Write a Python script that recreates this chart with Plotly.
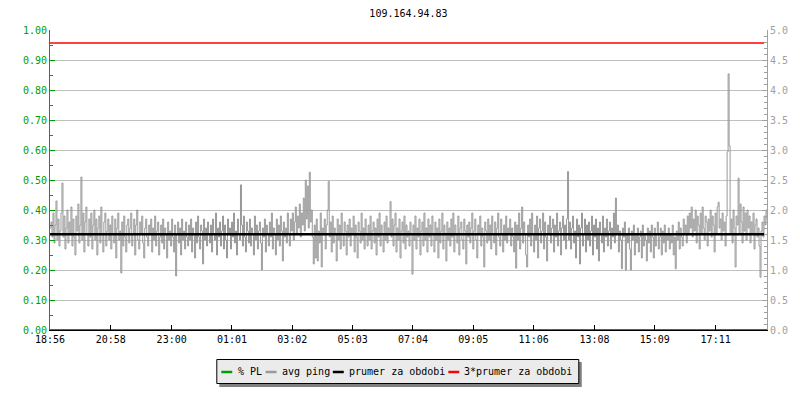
import plotly.graph_objects as go

title_text = "109.164.94.83"
tick_labels = ["18:56", "20:58", "23:00", "01:01", "03:02", "05:03",
               "07:04", "09:05", "11:06", "13:08", "15:09", "17:11"]
tick_minutes = [0, 122, 244, 365, 486, 607, 728, 849, 970, 1092, 1213, 1335]
span_minutes = 1438
sample_step = 2  # minutes between ping samples

# average ping (right axis, 0-5)
avg_ping = [
    1.70, 1.80, 1.55, 1.95, 1.45, 1.75, 2.15, 1.50, 1.85, 1.40, 1.65, 1.95, 2.45, 1.55, 1.90, 1.35, 1.70, 2.00, 1.45, 1.80,
    1.60, 2.05, 1.40, 1.85, 1.55, 1.25, 1.90, 1.65, 2.10, 1.45, 1.75, 2.55, 1.50, 1.95, 1.30, 1.80, 2.05, 1.60, 1.40, 1.85,
    1.55, 1.95, 1.35, 1.75, 2.00, 1.50, 1.85, 1.25, 1.70, 1.90, 1.45, 2.05, 1.60, 1.30, 1.80, 1.95, 1.40, 1.65, 1.85, 1.50,
    1.75, 1.35, 1.90, 1.60, 1.45, 1.85, 1.20, 1.70, 1.95, 1.50, 1.65, 0.95, 1.80, 1.40, 1.90, 1.55, 1.30, 1.75, 1.85, 1.45,
    1.70, 1.95, 1.40, 1.60, 1.85, 1.25, 1.75, 2.00, 1.50, 1.35, 1.80, 1.60, 1.90, 1.45, 1.20, 1.70, 1.85, 1.55, 1.40, 1.75,
    1.60, 1.85, 1.30, 1.70, 1.50, 1.90, 1.40, 1.65, 1.80, 1.25, 1.55, 1.75, 1.45, 1.85, 1.35, 1.70, 1.60, 1.20, 1.80, 1.50,
    1.65, 1.40, 1.85, 1.55, 1.30, 1.75, 0.90, 1.60, 1.80, 1.45, 1.70, 1.25, 1.85, 1.50, 1.65, 1.35, 1.80, 1.55, 1.40, 1.75,
    1.50, 1.85, 1.30, 1.70, 1.60, 1.20, 1.80, 1.45, 1.90, 1.55, 1.35, 1.75, 1.65, 1.10, 1.85, 1.50, 1.70, 1.40, 1.80, 1.60,
    1.45, 1.75, 1.30, 1.85, 1.60, 1.50, 1.95, 1.25, 1.70, 1.55, 1.80, 1.40, 1.65, 1.90, 1.35, 1.75, 1.50, 1.20, 1.85, 1.60,
    1.70, 1.35, 1.80, 1.55, 1.95, 1.45, 1.65, 1.25, 1.85, 1.60, 1.50, 2.42, 1.75, 1.40, 1.90, 1.55, 1.30, 1.80, 1.65, 1.45,
    1.85, 1.40, 1.70, 1.60, 1.25, 1.90, 1.50, 1.75, 1.35, 1.65, 1.80, 1.45, 1.00, 1.70, 1.55, 1.85, 1.30, 1.75, 1.60, 1.40,
    1.80, 1.55, 1.95, 1.35, 1.70, 1.60, 1.25, 1.85, 1.50, 1.75, 1.40, 1.90, 1.65, 1.15, 1.80, 1.55, 1.70, 1.45, 1.95, 1.60,
    1.40, 1.85, 1.65, 1.95, 1.50, 1.80, 2.05, 1.60, 1.90, 1.70, 2.10, 1.55, 1.95, 1.75, 2.20, 1.65, 2.50, 1.85, 2.40, 1.70,
    2.63, 1.80, 2.00, 1.55, 1.10, 1.75, 1.20, 1.85, 1.15, 1.65, 1.45, 1.95, 1.05, 1.70, 1.60, 1.85, 1.35, 1.75, 2.00, 2.48,
    1.55, 1.80, 1.30, 1.90, 1.45, 1.70, 1.60, 1.15, 1.85, 1.50, 1.75, 1.35, 1.95, 1.60, 1.40, 1.80, 1.65, 1.25, 1.75, 1.55,
    1.85, 1.40, 1.70, 1.60, 1.90, 1.30, 1.75, 1.55, 1.20, 1.80, 1.65, 1.45, 1.95, 1.50, 1.70, 1.35, 1.85, 1.60, 1.40, 1.75,
    1.50, 1.90, 1.35, 1.65, 1.80, 1.45, 1.70, 1.25, 1.85, 1.55, 1.95, 1.40, 1.75, 1.60, 1.30, 1.80, 1.50, 1.90, 1.45, 1.70,
    1.60, 2.14, 1.55, 1.85, 1.40, 1.75, 1.95, 1.30, 1.70, 1.50, 1.85, 1.20, 1.65, 1.80, 1.45, 1.90, 1.35, 1.75, 1.55, 1.65,
    1.40, 1.80, 1.60, 0.93, 1.75, 1.50, 1.90, 1.35, 1.70, 1.55, 1.85, 1.25, 1.65, 1.80, 1.40, 1.95, 1.50, 1.70, 1.30, 1.85,
    1.55, 1.75, 1.40, 1.90, 1.60, 1.30, 1.80, 1.50, 1.70, 1.20, 1.85, 1.45, 1.65, 1.95, 1.35, 1.75, 1.60, 1.15, 1.80, 1.50,
    1.70, 1.40, 1.85, 1.55, 1.95, 1.30, 1.75, 1.60, 1.45, 1.90, 1.25, 1.70, 1.80, 1.50, 1.35, 1.85, 1.65, 1.10, 1.75, 1.55,
    1.80, 1.45, 1.70, 1.95, 1.35, 1.65, 1.85, 1.50, 1.20, 1.75, 1.60, 1.90, 1.40, 1.70, 1.55, 1.05, 1.80, 1.65, 1.45, 1.85,
    1.50, 1.75, 1.35, 1.90, 1.60, 1.45, 1.80, 1.25, 1.70, 1.95, 1.55, 1.40, 1.85, 1.60, 1.30, 1.75, 1.50, 1.90, 1.45, 1.70,
    1.60, 1.85, 1.40, 1.70, 1.55, 1.30, 1.80, 1.03, 1.75, 1.50, 1.95, 1.35, 1.70, 2.05, 1.45, 1.80, 1.60, 1.25, 1.05, 1.75,
    1.55, 1.85, 1.40, 1.95, 1.60, 1.30, 1.75, 1.50, 1.90, 1.20, 1.70, 1.85, 1.45, 1.65, 1.95, 1.35, 1.80, 1.55, 1.15, 1.75,
    1.60, 1.90, 1.45, 1.70, 1.85, 1.30, 1.75, 1.55, 1.95, 1.40, 1.65, 1.80, 1.25, 1.70, 1.90, 1.50, 1.75, 1.35, 1.85, 2.64,
    1.50, 1.80, 1.35, 1.70, 1.90, 1.45, 1.65, 1.20, 1.85, 1.55, 1.75, 1.10, 1.70, 1.95, 1.40, 1.60, 1.85, 1.30, 1.75, 1.50,
    1.80, 1.40, 1.65, 1.90, 1.25, 1.75, 1.55, 1.85, 1.35, 1.70, 1.15, 1.80, 1.60, 1.45, 1.90, 1.30, 1.70, 1.55, 1.85, 1.40,
    1.65, 1.80, 1.35, 1.70, 1.55, 1.95, 1.45, 2.20, 1.60, 1.75, 1.30, 1.65, 1.50, 1.02, 1.70, 1.55, 1.80, 1.00, 1.60, 1.45,
    1.70, 1.35, 1.00, 1.65, 1.50, 1.75, 1.25, 1.60, 1.45, 1.70, 1.30, 1.55, 1.65, 1.20, 1.75, 1.40, 1.60, 1.50, 1.15, 1.70,
    1.45, 1.65, 1.30, 1.75, 1.55, 1.20, 1.70, 1.40, 1.60, 1.80, 1.35, 1.55, 1.70, 1.25, 1.65, 1.45, 1.75, 1.30, 1.60, 1.50,
    1.70, 1.35, 1.60, 1.45, 1.75, 1.25, 1.55, 1.02, 1.65, 1.50, 1.80, 1.35, 1.70, 1.55, 1.40, 1.85, 1.60, 1.75, 1.45, 1.90,
    1.60, 1.95, 1.70, 2.05, 1.55, 1.85, 1.65, 2.00, 1.45, 1.90, 1.75, 1.35, 1.95, 1.60, 2.05, 1.70, 1.50, 1.90, 1.80, 1.40,
    1.85, 1.65, 2.00, 1.55, 1.90, 1.75, 1.30, 1.95, 1.60, 2.05, 2.13, 1.70, 1.85, 1.50, 1.95, 1.65, 1.80, 1.40, 1.90, 2.97,
    4.27, 3.07, 1.60, 1.85, 1.45, 2.00, 1.70, 1.05, 1.90, 1.75, 2.53, 1.60, 2.10, 1.80, 1.45, 2.05, 1.65, 1.95, 1.50, 2.00,
    1.70, 1.90, 1.45, 1.80, 1.60, 1.95, 1.35, 1.75, 1.85, 1.55, 1.70, 1.40, 0.88, 1.65, 1.80, 1.55, 1.90, 1.75, 2.00, 1.85,
]
pl_values = [0.0, 0.0]          # % packet loss (left axis)
mean_ping = 1.595               # "prumer za obdobi"
triple_mean = 3 * mean_ping     # "3*prumer za obdobi"

GREEN = "#00a000"
GRAY = "#999999"
AXGRAY = "#a0a0a0"
FONT = "DejaVu Sans Mono"

times = [i * sample_step for i in range(len(avg_ping))]

fig = go.Figure()
fig.add_trace(go.Scatter(x=[0, span_minutes], y=pl_values, mode="lines",
                         line=dict(color=GREEN, width=2), yaxis="y",
                         showlegend=False, hoverinfo="skip"))
fig.add_trace(go.Scatter(x=times, y=avg_ping, mode="lines",
                         line=dict(color=GRAY, width=1, shape="hv"),
                         yaxis="y2", showlegend=False))
fig.add_trace(go.Scatter(x=[0, span_minutes - 6], y=[mean_ping, mean_ping], mode="lines",
                         line=dict(color="black", width=2.5), yaxis="y2",
                         showlegend=False))
fig.add_trace(go.Scatter(x=[0, span_minutes - 6], y=[triple_mean, triple_mean], mode="lines",
                         line=dict(color="#ff0000", width=1.5), yaxis="y2",
                         showlegend=False))

L, R, T, B = 50, 30, 30, 70
W, H = 800, 400
pw, ph = W - L - R, H - T - B


def px(x):
    return (x - L) / pw


def py(y):
    return (H - B - y) / ph


shapes = []
annotations = []
# legend shadow + box
shapes.append(dict(type="rect", xref="paper", yref="paper",
                   x0=px(220), x1=px(584), y0=py(362), y1=py(387),
                   fillcolor="#808080", line=dict(width=0), layer="above"))
shapes.append(dict(type="rect", xref="paper", yref="paper",
                   x0=px(217.5), x1=px(581), y0=py(359.5), y1=py(383.5),
                   fillcolor="#ebebeb", line=dict(color="black", width=1),
                   layer="above"))
legend_items = [
    ("% PL", GREEN, 222, 236.5),
    ("avg ping", GRAY, 266.5, 280.5),
    ("prumer za obdobi", "black", 334, 348),
    ("3*prumer za obdobi", "#ff0000", 450, 464),
]
for label, col, lx, tx in legend_items:
    shapes.append(dict(type="line", xref="paper", yref="paper",
                       x0=px(lx), x1=px(lx + 11), y0=py(372), y1=py(372),
                       line=dict(color=col, width=2.5), layer="above"))
    annotations.append(dict(text=label, xref="paper", yref="paper",
                            x=px(tx), y=py(371), xanchor="left", yanchor="middle",
                            showarrow=False, font=dict(family=FONT, size=10, color="black")))

fig.update_layout(
    width=W, height=H,
    margin=dict(l=L, r=R, t=T, b=B),
    paper_bgcolor="white", plot_bgcolor="white",
    font=dict(family=FONT, size=10, color="black"),
    title=dict(text=title_text, x=0.5, xref="paper", xanchor="center",
               y=1 - 13 / H, yref="container", yanchor="middle",
               font=dict(family=FONT, size=10, color="black")),
    showlegend=False,
    xaxis=dict(range=[0, span_minutes], tickvals=tick_minutes, ticktext=tick_labels,
               ticks="inside", ticklen=5, tickcolor="black", showgrid=False,
               showline=True, linecolor="black", linewidth=1, zeroline=False,
               tickfont=dict(family=FONT, size=10, color="black")),
    yaxis=dict(range=[0, 1], dtick=0.1, tick0=0, tickformat=".2f",
               ticks="inside", ticklen=5, tickcolor=GREEN, showline=True,
               linecolor=GREEN, linewidth=1, gridcolor="#c0c0c0", gridwidth=1,
               zeroline=False,
               minor=dict(dtick=0.05, ticks="inside", ticklen=3, tickcolor=GREEN,
                          showgrid=False),
               tickfont=dict(family=FONT, size=10, color=GREEN)),
    yaxis2=dict(range=[0, 5], dtick=0.5, tick0=0, tickformat=".1f",
                overlaying="y", side="right",
                ticks="inside", ticklen=5, tickcolor=AXGRAY, showline=True,
                linecolor=AXGRAY, linewidth=1, showgrid=False, zeroline=False,
                minor=dict(dtick=0.1, ticks="inside", ticklen=3, tickcolor=AXGRAY,
                           showgrid=False),
                tickfont=dict(family=FONT, size=10, color=AXGRAY)),
    shapes=shapes,
    annotations=annotations,
)

fig.write_html("out.html", config={"displayModeBar": False},
               post_script="document.body.style.margin='0';")
